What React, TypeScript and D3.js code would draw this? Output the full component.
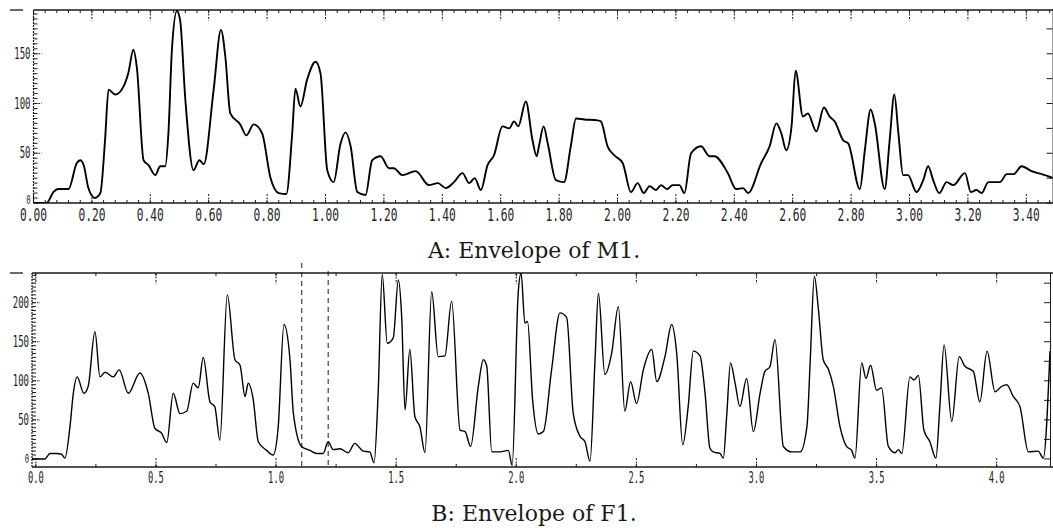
import React from "react";
import * as d3 from "d3";

// Panel A: Envelope of M1
const A_TIME = [0.0,0.045,0.068,0.085,0.12,0.148,0.16,0.172,0.188,0.21,0.229,0.245,0.257,0.28,0.308,0.325,0.342,0.354,0.377,0.394,0.417,0.434,0.451,0.462,0.474,0.491,0.502,0.52,0.548,0.568,0.583,0.617,0.642,0.657,0.674,0.708,0.729,0.754,0.783,0.811,0.84,0.866,0.886,0.897,0.914,0.937,0.966,0.983,1.006,1.028,1.051,1.069,1.086,1.109,1.137,1.16,1.189,1.217,1.234,1.263,1.309,1.354,1.385,1.412,1.44,1.469,1.492,1.511,1.532,1.555,1.577,1.606,1.629,1.646,1.66,1.686,1.709,1.723,1.731,1.747,1.761,1.789,1.817,1.84,1.858,1.886,1.932,1.943,1.966,1.989,2.018,2.046,2.069,2.09,2.11,2.132,2.149,2.17,2.189,2.212,2.229,2.252,2.286,2.315,2.332,2.378,2.406,2.43,2.447,2.492,2.521,2.544,2.561,2.578,2.596,2.61,2.635,2.652,2.681,2.707,2.726,2.744,2.773,2.79,2.83,2.847,2.867,2.881,2.915,2.932,2.948,2.962,2.978,2.995,3.024,3.047,3.064,3.081,3.102,3.127,3.15,3.19,3.21,3.229,3.247,3.27,3.31,3.333,3.356,3.384,3.418,3.453,3.493];
const A_VALUE = [0,0,11,14,14,40,43,38,15,5,10,63,114,109,117,131,154,136,43,38,28,37,37,70,154,193,184,104,33,43,39,114,174,147,90,79,68,79,70,26,10,9,70,115,97,124,142,130,33,21,59,71,57,11,8,43,47,35,35,28,32,18,20,15,21,30,20,25,13,38,48,77,75,82,77,102,63,47,57,77,60,23,21,57,85,84,83,82,57,48,40,11,20,10,17,13,18,14,18,18,10,50,57,47,47,30,14,15,10,40,57,80,70,53,77,133,87,90,72,96,87,82,63,60,14,53,94,80,14,63,109,70,28,28,11,23,37,23,10,21,18,30,11,13,10,21,21,29,29,37,32,29,25];

// Panel B: Envelope of F1
const B_TIME = [-0.016,0.038,0.059,0.087,0.107,0.121,0.142,0.156,0.172,0.2,0.218,0.246,0.267,0.288,0.322,0.347,0.385,0.433,0.468,0.496,0.523,0.545,0.572,0.6,0.628,0.655,0.676,0.697,0.725,0.745,0.766,0.797,0.829,0.85,0.871,0.884,0.905,0.926,0.961,0.988,1.009,1.033,1.058,1.072,1.106,1.141,1.169,1.196,1.217,1.238,1.266,1.3,1.328,1.349,1.363,1.39,1.408,1.425,1.442,1.463,1.488,1.509,1.523,1.537,1.557,1.578,1.599,1.62,1.648,1.675,1.703,1.731,1.766,1.787,1.81,1.842,1.863,1.877,1.898,1.933,1.967,1.983,2.008,2.02,2.036,2.047,2.068,2.092,2.113,2.147,2.182,2.21,2.237,2.265,2.286,2.307,2.328,2.342,2.369,2.397,2.425,2.452,2.476,2.501,2.529,2.564,2.585,2.619,2.647,2.668,2.693,2.716,2.737,2.765,2.786,2.806,2.82,2.848,2.862,2.876,2.892,2.911,2.931,2.959,2.987,3.015,3.035,3.056,3.077,3.112,3.147,3.182,3.21,3.224,3.241,3.258,3.278,3.299,3.32,3.348,3.375,3.396,3.41,3.438,3.456,3.475,3.5,3.521,3.549,3.577,3.591,3.605,3.639,3.656,3.674,3.697,3.722,3.747,3.764,3.781,3.813,3.844,3.867,3.903,3.93,3.96,3.993,4.021,4.042,4.069,4.097,4.132,4.173,4.194,4.222];
const B_VALUE = [0,0,7,7,6,1,41,84,105,84,93,163,105,111,105,114,84,110,84,39,33,21,84,58,61,97,91,130,73,67,24,210,127,120,80,97,76,22,11,5,41,172,127,59,16,11,7,7,22,12,13,8,20,14,10,9,-5,84,236,148,155,229,182,63,140,54,41,8,214,131,132,202,37,35,16,93,127,119,9,9,11,-8,212,238,174,176,76,32,35,114,187,181,59,29,22,-3,127,212,108,135,195,61,99,71,114,140,99,131,172,135,18,68,138,132,84,14,9,7,1,55,123,97,67,103,35,84,112,118,153,16,9,9,41,127,234,191,127,115,93,41,16,11,1,123,103,120,88,91,16,8,12,7,105,101,107,37,22,1,70,146,48,131,119,112,73,138,86,93,95,80,67,9,10,1,138];

const A_XTICKS = [0,0.2,0.4,0.6,0.8,1.0,1.2,1.4,1.6,1.8,2.0,2.2,2.4,2.6,2.8,3.0,3.2,3.4];
const A_YTICKS = [0,50,100,150];
const B_XTICKS = [0,0.5,1.0,1.5,2.0,2.5,3.0,3.5,4.0];
const B_YTICKS = [0,50,100,150,200];
const B_MARKERS = [1.107,1.217];
const CAPTION_A = "A: Envelope of M1.";
const CAPTION_B = "B: Envelope of F1.";

const W = 1053, H = 528;
const INK = "#1a1a1a";
const LABEL_FONT = "'DejaVu Sans Mono', monospace";

function NarrowText(props: { x: number; y: number; sx: number; size: number; anchor: string; children: string; fill?: string }) {
  return (
    <g transform={`translate(${props.x},${props.y}) scale(${props.sx},1)`}>
      <text x={0} y={0} textAnchor={props.anchor as any} fontFamily={LABEL_FONT} fontSize={props.size} fill={props.fill || "#222"}>
        {props.children}
      </text>
    </g>
  );
}

type PanelProps = {
  id: string;
  times: number[];
  values: number[];
  xDomain: [number, number];
  xRange: [number, number];
  yDomain: [number, number];
  yRange: [number, number];
  xTicks: number[];
  yTicks: number[];
  fmt: (n: number) => string;
  minorX: number;
  minorY: number;
  rightMinorY: number;
  lineWidth: number;
  labelY: number;
  labelSize: number;
  labelSx: number;
  zeroShift: number;
  markers?: number[];
};

function Panel(p: PanelProps) {
  const x = d3.scaleLinear().domain(p.xDomain).range(p.xRange);
  const y = d3.scaleLinear().domain(p.yDomain).range(p.yRange);
  const [x0, x1] = p.xRange;
  const [yb, yt] = p.yRange;
  const pts: [number, number][] = p.times.map((t, i) => [t, p.values[i]]);
  const line = d3.line<[number, number]>().x(d => x(d[0])).y(d => y(d[1])).curve(d3.curveMonotoneX);
  const minorXs = d3.range(Math.ceil(p.xDomain[0] / p.minorX) * p.minorX, p.xDomain[1], p.minorX);
  const minorYs = d3.range(0, p.yDomain[1], p.minorY);
  const rightYs = d3.range(0, p.yDomain[1], p.rightMinorY);
  return (
    <g>
      <defs>
        <clipPath id={p.id}>
          <rect x={x0} y={yt} width={x1 - x0} height={yb - yt} />
        </clipPath>
      </defs>
      <line x1={10} x2={23} y1={yt} y2={yt} stroke={INK} strokeWidth={1.3} />
      <line x1={x0} x2={W} y1={yt} y2={yt} stroke={INK} strokeWidth={1.6} />
      <line x1={x0} x2={W} y1={yb} y2={yb} stroke={INK} strokeWidth={1.4} />
      <line x1={x0} x2={x0} y1={yt} y2={yb} stroke={INK} strokeWidth={1.2} strokeDasharray="2,1" />
      <line x1={x1 + 0.5} x2={x1 + 0.5} y1={yt} y2={yb} stroke={INK} strokeWidth={1} />
      {minorXs.map((v, i) => (
        <g key={"mx" + i}>
          <line x1={x(v)} x2={x(v)} y1={yt} y2={yt + 3} stroke={INK} strokeWidth={1} />
          <line x1={x(v)} x2={x(v)} y1={yb} y2={yb - 3} stroke={INK} strokeWidth={1} />
        </g>
      ))}
      {p.xTicks.map((v, i) => (
        <g key={"x" + i}>
          <line x1={x(v)} x2={x(v)} y1={yt} y2={yt + 11} stroke={INK} strokeWidth={1} strokeDasharray="2,1.5" />
          <line x1={x(v)} x2={x(v)} y1={yb} y2={yb - 9} stroke={INK} strokeWidth={1} strokeDasharray="2,1.5" />
          <NarrowText x={x(v)} y={p.labelY} sx={p.labelSx} size={p.labelSize} anchor="middle">
            {p.fmt(v)}
          </NarrowText>
        </g>
      ))}
      {minorYs.map((v, i) => (
        <line key={"my" + i} x1={x0} x2={x0 + 4} y1={y(v)} y2={y(v)} stroke={INK} strokeWidth={1} />
      ))}
      {rightYs.map((v, i) => (
        <line key={"ry" + i} x1={x1 - 6} x2={x1} y1={y(v)} y2={y(v)} stroke={INK} strokeWidth={1} />
      ))}
      {p.yTicks.map((v, i) => (
        <g key={"y" + i}>
          <line x1={x0} x2={x0 + 8} y1={y(v)} y2={y(v)} stroke={INK} strokeWidth={1} strokeDasharray="1.5,1" />
          <NarrowText x={x0 - 3} y={y(v) + (v === 0 ? p.zeroShift : 5)} sx={0.6} size={v === 0 ? 12 : 15} anchor="end">
            {String(v)}
          </NarrowText>
        </g>
      ))}
      {(p.markers || []).map((v, i) => (
        <line key={"mk" + i} x1={x(v)} x2={x(v)} y1={yt - 10 + i * 8} y2={yb + 1} stroke={INK} strokeWidth={1} strokeDasharray="5,4" />
      ))}
      <path d={line(pts) || ""} fill="none" stroke="#000" strokeWidth={p.lineWidth} strokeLinejoin="round" clipPath={`url(#${p.id})`} />
    </g>
  );
}

export default function App() {
  const fmt2 = d3.format(".2f");
  const fmt1 = d3.format(".1f");
  return (
    <svg width={W} height={H} style={{ position: "absolute", left: 0, top: 0, background: "#fff" }}>
      <rect x={0} y={0} width={W} height={H} fill="#fff" />
      <Panel
        id="clipA"
        times={A_TIME}
        values={A_VALUE}
        xDomain={[0, 3.49]}
        xRange={[33.5, 33.5 + 3.49 * 292]}
        yDomain={[0, 194]}
        yRange={[203, 10]}
        xTicks={A_XTICKS}
        yTicks={A_YTICKS}
        fmt={fmt2}
        minorX={0.04}
        minorY={5}
        rightMinorY={25}
        lineWidth={1.9}
        labelY={220.5}
        labelSize={17}
        labelSx={0.66}
        zeroShift={1}
      />
      <text x={534} y={258} textAnchor="middle" fontFamily="'DejaVu Serif', serif" fontSize={22} fill="#1a1a1a">{CAPTION_A}</text>
      <Panel
        id="clipB"
        times={B_TIME}
        values={B_VALUE}
        xDomain={[-0.016, 4.222]}
        xRange={[32, 1050]}
        yDomain={[-10.3, 238]}
        yRange={[467, 273]}
        xTicks={B_XTICKS}
        yTicks={B_YTICKS}
        fmt={fmt1}
        minorX={0.25}
        minorY={5}
        rightMinorY={25}
        lineWidth={1.4}
        labelY={483}
        labelSize={16}
        labelSx={0.55}
        zeroShift={4}
        markers={B_MARKERS}
      />
      <text x={534} y={521} textAnchor="middle" fontFamily="'DejaVu Serif', serif" fontSize={22} fill="#1a1a1a">{CAPTION_B}</text>
    </svg>
  );
}
